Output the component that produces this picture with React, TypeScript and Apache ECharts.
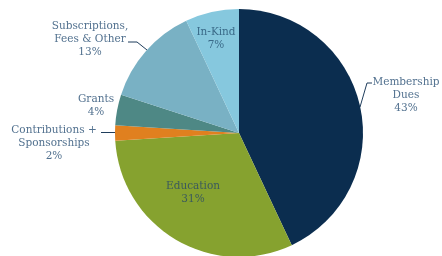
import React, { useEffect, useRef } from "react";
import * as echarts from "echarts";

const categories = [
  "Membership\nDues",
  "Education",
  "Contributions +\nSponsorships",
  "Grants",
  "Subscriptions,\nFees & Other",
  "In-Kind",
];
const values = [43, 31, 2, 4, 13, 7];
const sliceColors = ["#0b2d4f", "#86a22f", "#e0801f", "#4e8885", "#79b1c4", "#86c8de"];

// label layout (positions only)
const labelPos: Record<number, { x: number; y: number; line?: number[][] }> = {
  0: { x: 406, y: 94, line: [[360, 107], [367, 83], [372, 83]] },
  1: { x: 193, y: 191 },
  2: { x: 54, y: 142, line: [[116, 132.5], [101, 132.5]] },
  3: { x: 96, y: 104 },
  4: { x: 90, y: 38, line: [[147, 50], [137, 42], [128, 42]] },
  5: { x: 216, y: 37 },
};

export default function App() {
  const ref = useRef<HTMLDivElement>(null);
  useEffect(() => {
    if (!ref.current) return;
    const chart = echarts.init(ref.current, null, { renderer: "svg" });
    const insideIdx = [1, 5];
    const noLine = [1, 3, 5];
    chart.setOption({
      animation: false,
      series: [
        {
          type: "pie",
          center: [239, 133],
          radius: 124,
          startAngle: 90,
          clockwise: true,
          avoidLabelOverlap: false,
          itemStyle: { borderWidth: 0 },
          label: {
            show: true,
            fontFamily: "DejaVu Serif",
            fontSize: 10.5,
            lineHeight: 13,
            color: "#52718f",
            align: "center",
            formatter: (p: any) => `${p.name}\n${p.value}%`,
          },
          labelLine: {
            show: true,
            lineStyle: { color: "#1f3d5c", width: 1 },
          },
          labelLayout: (params: any) => {
            const lp = labelPos[params.dataIndex];
            const out: any = {
              x: lp.x,
              y: lp.y,
              align: "center",
              verticalAlign: "middle",
            };
            if (lp.line) out.labelLinePoints = lp.line;
            return out;
          },
          data: categories.map((name, i) => ({
            name,
            value: values[i],
            itemStyle: { color: sliceColors[i] },
            label: insideIdx.includes(i)
              ? { position: "inside", color: i === 1 ? "#3b5a5c" : "#3a6a88" }
              : { position: "outside" },
            labelLine: { show: !noLine.includes(i) },
          })),
        },
      ],
    });
    return () => chart.dispose();
  }, []);
  return (
    <div
      ref={ref}
      style={{ position: "fixed", left: 0, top: 0, width: 442, height: 256 }}
    />
  );
}
